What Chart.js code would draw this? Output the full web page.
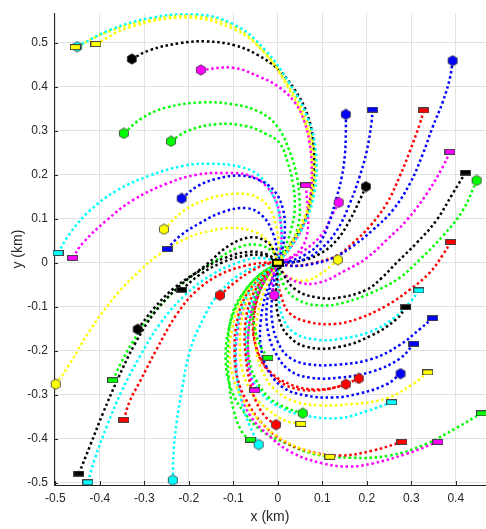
<!DOCTYPE html>
<html>
<head>
<meta charset="utf-8">
<script src="https://cdn.jsdelivr.net/npm/chart.js@4.4.0/dist/chart.umd.min.js"></script>
<style>
  html, body { margin: 0; padding: 0; background: #fff; }
  canvas { display: block; }
</style>
</head>
<body>
<canvas id="chart" width="486" height="529"></canvas>
<script>
// axis limits (km) and tick step
const xRange = [-0.503, 0.468];
const yRange = [-0.505, 0.567];
const tickStep = 0.1;

// every track ends at the hub
const hub = [0, 0];

// one letter per track: colour and marker (h = hexagon, s = rectangle)
const trackColor = ['c','y','y','k','m','m','g','g','b','c',
                    'm','y','b','y','k','c','k','g','r','r',
                    'k','c','g','c','r','m','g','m','g','y',
                    'y','r','m','g','c','y','b','b','b','r',
                    'r','k','c','r','k','g','m','y','b','r',
                    'b','b','k','m'];
const trackMarker = ('hsshhshhhs' + 'shshsshssh' + 'shshhsshhs' +
                     'sssssshssh' + 'hsssshshhs' + 'shhh').split('');

// tracks, [x, y] in km, first point = marker
const paths = [
  [[-0.451,0.491],[-0.377,0.529],[-0.287,0.556],[-0.186,0.565],[-0.096,0.540],[-0.029,0.484],[0.028,0.405],[0.068,0.327],[0.086,0.248],[0.082,0.158],[0.061,0.091],[0.028,0.034],[0,0]],
  [[-0.455,0.490],[-0.378,0.526],[-0.287,0.552],[-0.186,0.561],[-0.098,0.537],[-0.032,0.481],[0.024,0.403],[0.064,0.326],[0.082,0.248],[0.079,0.159],[0.058,0.092],[0.026,0.035],[0,0]],
  [[-0.409,0.497],[-0.333,0.535],[-0.205,0.557],[-0.097,0.530],[-0.029,0.476],[0.022,0.400],[0.061,0.319],[0.076,0.247],[0.074,0.157],[0.054,0.090],[0.022,0.034],[0,0]],
  [[-0.328,0.463],[-0.288,0.483],[-0.220,0.499],[-0.160,0.503],[-0.097,0.494],[-0.045,0.472],[0,0.440],[0.038,0.393],[0.065,0.341],[0.079,0.281],[0.081,0.209],[0.074,0.146],[0.058,0.090],[0.027,0.040],[0,0]],
  [[-0.173,0.438],[-0.101,0.443],[-0.040,0.422],[0.004,0.398],[0.040,0.362],[0.060,0.320],[0.071,0.275],[0.076,0.225],[0.074,0.157],[0.061,0.094],[0.031,0.038],[0,0]],
  [[0.063,0.176],[0.067,0.124],[0.067,0.072],[0.054,0.034],[0.027,0.011],[0,0]],
  [[-0.346,0.294],[-0.303,0.330],[-0.249,0.353],[-0.175,0.364],[-0.101,0.360],[-0.040,0.342],[0,0.308],[0.027,0.252],[0.043,0.196],[0.049,0.142],[0.047,0.090],[0.031,0.045],[0,0]],
  [[-0.240,0.276],[-0.204,0.299],[-0.137,0.315],[-0.070,0.310],[-0.029,0.294],[0.004,0.272],[0.022,0.229],[0.034,0.180],[0.038,0.124],[0.029,0.072],[0.013,0.027],[0,0]],
  [[-0.216,0.146],[-0.182,0.173],[-0.137,0.191],[-0.085,0.198],[-0.040,0.187],[-0.007,0.162],[0.011,0.124],[0.016,0.079],[0.011,0.034],[0,0]],
  [[-0.494,0.022],[-0.467,0.067],[-0.422,0.119],[-0.362,0.164],[-0.288,0.198],[-0.213,0.220],[-0.153,0.225],[-0.085,0.218],[-0.040,0.196],[-0.011,0.153],[0.004,0.106],[0.009,0.056],[0,0]],
  [[-0.461,0.011],[-0.438,0.045],[-0.384,0.097],[-0.326,0.142],[-0.249,0.180],[-0.182,0.200],[-0.124,0.204],[-0.063,0.198],[-0.025,0.173],[-0.002,0.135],[0.007,0.085],[0.007,0.034],[0,0]],
  [[-0.256,0.076],[-0.213,0.117],[-0.160,0.144],[-0.092,0.157],[-0.045,0.148],[-0.018,0.122],[-0.004,0.085],[0.002,0.040],[0,0]],
  [[-0.249,0.031],[-0.220,0.061],[-0.175,0.090],[-0.124,0.115],[-0.070,0.124],[-0.034,0.106],[-0.011,0.067],[-0.002,0.029],[0,0]],
  [[-0.499,-0.276],[-0.467,-0.229],[-0.422,-0.153],[-0.362,-0.072],[-0.310,-0.018],[-0.265,0.020],[-0.204,0.056],[-0.153,0.072],[-0.101,0.079],[-0.052,0.070],[-0.022,0.049],[-0.007,0.022],[0,0]],
  [[-0.447,-0.479],[-0.422,-0.416],[-0.393,-0.342],[-0.360,-0.265],[-0.321,-0.184],[-0.276,-0.112],[-0.220,-0.052],[-0.160,-0.004],[-0.108,0.040],[-0.058,0.058],[-0.022,0.045],[-0.007,0.022],[0,0]],
  [[-0.427,-0.499],[-0.411,-0.445],[-0.384,-0.371],[-0.351,-0.292],[-0.310,-0.213],[-0.265,-0.139],[-0.209,-0.074],[-0.148,-0.027],[-0.085,0.002],[-0.036,0.011],[0,0]],
  [[-0.315,-0.151],[-0.276,-0.101],[-0.231,-0.056],[-0.175,-0.018],[-0.119,0.011],[-0.063,0.025],[-0.022,0.018],[0,0]],
  [[-0.371,-0.267],[-0.351,-0.225],[-0.326,-0.180],[-0.292,-0.130],[-0.247,-0.079],[-0.198,-0.034],[-0.142,0.004],[-0.085,0.036],[-0.040,0.040],[-0.009,0.022],[0,0]],
  [[-0.346,-0.357],[-0.333,-0.315],[-0.310,-0.270],[-0.272,-0.196],[-0.227,-0.117],[-0.182,-0.063],[-0.130,-0.027],[-0.074,-0.007],[-0.029,0],[0,0]],
  [[-0.130,-0.074],[-0.097,-0.045],[-0.058,-0.018],[-0.022,-0.002],[0,0]],
  [[-0.216,-0.061],[-0.175,-0.027],[-0.126,0],[-0.074,0.016],[-0.029,0.016],[0,0]],
  [[-0.236,-0.494],[-0.234,-0.427],[-0.227,-0.360],[-0.216,-0.292],[-0.198,-0.202],[-0.169,-0.130],[-0.137,-0.076],[-0.092,-0.031],[-0.047,-0.009],[0,0]],
  [[-0.061,-0.402],[-0.079,-0.387],[-0.099,-0.337],[-0.110,-0.265],[-0.112,-0.187],[-0.101,-0.112],[-0.072,-0.061],[-0.040,-0.027],[0,0]],
  [[-0.043,-0.413],[-0.063,-0.371],[-0.083,-0.310],[-0.094,-0.236],[-0.092,-0.157],[-0.079,-0.097],[-0.052,-0.049],[-0.022,-0.018],[0,0]],
  [[-0.004,-0.368],[-0.027,-0.351],[-0.049,-0.315],[-0.063,-0.270],[-0.072,-0.213],[-0.074,-0.151],[-0.063,-0.090],[-0.040,-0.045],[-0.018,-0.016],[0,0]],
  [[-0.052,-0.290],[-0.063,-0.247],[-0.067,-0.191],[-0.063,-0.130],[-0.049,-0.079],[-0.027,-0.034],[0,0]],
  [[-0.022,-0.216],[-0.040,-0.187],[-0.052,-0.148],[-0.056,-0.108],[-0.049,-0.072],[-0.034,-0.038],[0,0]],
  [[-0.008,-0.074],[-0.013,-0.045],[-0.007,-0.018],[0,0]],
  [[0.056,-0.342],[0.020,-0.330],[-0.018,-0.308],[-0.047,-0.270],[-0.063,-0.225],[-0.067,-0.173],[-0.058,-0.112],[-0.040,-0.061],[-0.018,-0.022],[0,0]],
  [[0.052,-0.366],[0.020,-0.360],[-0.018,-0.337],[-0.056,-0.299],[-0.079,-0.247],[-0.085,-0.187],[-0.079,-0.119],[-0.056,-0.061],[-0.027,-0.022],[0,0]],
  [[0.117,-0.441],[0.065,-0.427],[0.004,-0.398],[-0.040,-0.360],[-0.076,-0.315],[-0.099,-0.265],[-0.108,-0.213],[-0.103,-0.151],[-0.081,-0.085],[-0.045,-0.038],[0,0]],
  [[0.279,-0.407],[0.213,-0.427],[0.139,-0.438],[0.065,-0.427],[0.011,-0.404],[-0.034,-0.366],[-0.067,-0.319],[-0.090,-0.265],[-0.097,-0.202],[-0.092,-0.135],[-0.074,-0.079],[-0.040,-0.034],[0,0]],
  [[0.360,-0.407],[0.290,-0.434],[0.213,-0.456],[0.162,-0.463],[0.101,-0.456],[0.031,-0.431],[-0.022,-0.391],[-0.063,-0.346],[-0.085,-0.292],[-0.094,-0.225],[-0.090,-0.157],[-0.074,-0.097],[-0.045,-0.045],[0,0]],
  [[0.458,-0.342],[0.402,-0.375],[0.335,-0.411],[0.252,-0.438],[0.162,-0.443],[0.079,-0.434],[0.020,-0.411],[-0.036,-0.382],[-0.074,-0.342],[-0.103,-0.292],[-0.117,-0.225],[-0.110,-0.151],[-0.085,-0.083],[-0.045,-0.031],[0,0]],
  [[0.256,-0.317],[0.200,-0.337],[0.139,-0.353],[0.065,-0.348],[0.009,-0.330],[-0.036,-0.297],[-0.063,-0.247],[-0.072,-0.180],[-0.065,-0.112],[-0.045,-0.056],[-0.022,-0.022],[0,0]],
  [[0.337,-0.249],[0.303,-0.276],[0.245,-0.308],[0.169,-0.321],[0.094,-0.324],[0.038,-0.315],[-0.007,-0.288],[-0.036,-0.243],[-0.049,-0.191],[-0.047,-0.130],[-0.034,-0.074],[-0.013,-0.027],[0,0]],
  [[0.276,-0.252],[0.245,-0.276],[0.184,-0.297],[0.124,-0.306],[0.061,-0.301],[0.011,-0.283],[-0.022,-0.243],[-0.038,-0.191],[-0.038,-0.130],[-0.027,-0.072],[-0.011,-0.029],[0,0]],
  [[0.306,-0.184],[0.274,-0.218],[0.213,-0.247],[0.139,-0.261],[0.072,-0.261],[0.027,-0.245],[-0.004,-0.207],[-0.022,-0.157],[-0.025,-0.101],[-0.016,-0.049],[0,0]],
  [[0.348,-0.126],[0.319,-0.151],[0.274,-0.187],[0.213,-0.218],[0.139,-0.231],[0.072,-0.231],[0.027,-0.216],[0,-0.180],[-0.013,-0.130],[-0.013,-0.079],[-0.007,-0.034],[0,0]],
  [[0.182,-0.263],[0.139,-0.281],[0.083,-0.288],[0.027,-0.276],[-0.018,-0.247],[-0.045,-0.202],[-0.056,-0.146],[-0.049,-0.090],[-0.029,-0.040],[0,0]],
  [[0.153,-0.276],[0.106,-0.288],[0.049,-0.288],[0.004,-0.270],[-0.029,-0.236],[-0.049,-0.191],[-0.054,-0.135],[-0.045,-0.079],[-0.025,-0.034],[0,0]],
  [[0.288,-0.101],[0.267,-0.128],[0.213,-0.164],[0.139,-0.191],[0.065,-0.191],[0.022,-0.164],[0.002,-0.124],[-0.004,-0.074],[-0.002,-0.034],[0,0]],
  [[0.317,-0.063],[0.297,-0.090],[0.258,-0.128],[0.207,-0.157],[0.139,-0.173],[0.090,-0.175],[0.038,-0.160],[0.011,-0.124],[0.002,-0.074],[0,0]],
  [[0.389,0.047],[0.371,0.018],[0.342,-0.022],[0.297,-0.061],[0.245,-0.097],[0.184,-0.126],[0.128,-0.139],[0.072,-0.135],[0.027,-0.115],[0.007,-0.074],[0,-0.034],[0,0]],
  [[0.422,0.205],[0.393,0.157],[0.357,0.097],[0.312,0.045],[0.267,0],[0.234,-0.034],[0.200,-0.061],[0.139,-0.079],[0.088,-0.079],[0.040,-0.061],[0.013,-0.027],[0,0]],
  [[0.447,0.187],[0.416,0.119],[0.371,0.061],[0.319,0.007],[0.274,-0.034],[0.213,-0.067],[0.151,-0.090],[0.094,-0.097],[0.043,-0.083],[0.013,-0.049],[0,0]],
  [[0.387,0.252],[0.371,0.218],[0.335,0.157],[0.290,0.097],[0.245,0.052],[0.200,0.011],[0.151,-0.018],[0.094,-0.045],[0.049,-0.045],[0.016,-0.027],[0,0]],
  [[0.135,0.007],[0.101,-0.022],[0.065,-0.040],[0.031,-0.036],[0.009,-0.018],[0,0]],
  [[0.393,0.459],[0.387,0.420],[0.371,0.366],[0.348,0.308],[0.326,0.247],[0.297,0.180],[0.258,0.119],[0.213,0.074],[0.169,0.038],[0.124,0.011],[0.072,-0.004],[0.027,-0.007],[0,0]],
  [[0.328,0.346],[0.319,0.315],[0.297,0.254],[0.274,0.196],[0.245,0.135],[0.207,0.083],[0.169,0.045],[0.133,0.016],[0.083,0],[0.038,-0.007],[0,0]],
  [[0.213,0.348],[0.211,0.321],[0.200,0.254],[0.184,0.196],[0.162,0.135],[0.133,0.074],[0.094,0.029],[0.049,0.004],[0,0]],
  [[0.153,0.337],[0.153,0.299],[0.151,0.247],[0.144,0.196],[0.133,0.151],[0.117,0.097],[0.094,0.045],[0.061,0.018],[0.027,0.004],[0,0]],
  [[0.198,0.173],[0.184,0.142],[0.162,0.097],[0.133,0.052],[0.094,0.020],[0.049,0.004],[0,0]],
  [[0.137,0.137],[0.124,0.112],[0.101,0.067],[0.061,0.029],[0.022,0.007],[0,0]]
];

const palette = {r:'#ff0000', g:'#00ff00', b:'#0000ff', c:'#00ffff', m:'#ff00ff', y:'#ffff00', k:'#000000'};
const ink = '#262626';
const font = 'Liberation Sans, Arial, Helvetica, sans-serif';

// marker sprites (Chart.js has no hexagon / flat box point style)
function hexSprite(fill) {
  const c = document.createElement('canvas');
  c.width = 12; c.height = 12;
  const g = c.getContext('2d');
  g.beginPath();
  for (let i = 0; i < 6; i++) {
    const a = -Math.PI / 2 + i * Math.PI / 3;
    g.lineTo(6 + 5.2 * Math.cos(a), 6 + 5.2 * Math.sin(a));
  }
  g.closePath();
  g.fillStyle = fill;
  g.fill();
  g.strokeStyle = '#333';
  g.lineWidth = 0.8;
  g.stroke();
  return c;
}
function boxSprite(fill, edge, lw, w, h) {
  const c = document.createElement('canvas');
  c.width = w; c.height = h;
  const g = c.getContext('2d');
  g.fillStyle = fill;
  g.fillRect(0, 0, w, h);
  g.strokeStyle = edge;
  g.lineWidth = lw;
  g.strokeRect(lw / 2, lw / 2, w - lw, h - lw);
  return c;
}
const sprites = {};
function sprite(col, kind) {
  const key = col + kind;
  if (!sprites[key]) sprites[key] = kind === 'h' ? hexSprite(palette[col]) : boxSprite(palette[col], '#444', 1, 11, 6);
  return sprites[key];
}

const lineSets = paths.map((p, i) => ({
  data: p.map(([x, y]) => ({x, y})),
  showLine: true,
  borderColor: palette[trackColor[i]],
  borderWidth: 2.5,
  borderDash: [2.5, 2.7],
  tension: 0.4,
  pointRadius: 0,
  order: 1
}));

const markerSet = {
  data: paths.map(p => ({x: p[0][0], y: p[0][1]})).concat([{x: hub[0], y: hub[1]}]),
  pointStyle: paths.map((p, i) => sprite(trackColor[i], trackMarker[i])).concat([boxSprite(palette.y, '#000', 2, 12, 8)]),
  pointRadius: 5,
  showLine: false,
  clip: false,
  order: 0
};

// MATLAB style inward tick marks
const innerTicks = {
  id: 'innerTicks',
  beforeDatasetsDraw(chart) {
    const {ctx, chartArea: a, scales: {x, y}} = chart;
    ctx.save();
    ctx.strokeStyle = ink;
    ctx.lineWidth = 1;
    ctx.beginPath();
    x.ticks.forEach(t => {
      const p = Math.round(x.getPixelForValue(t.value)) + 0.5;
      ctx.moveTo(p, a.bottom);
      ctx.lineTo(p, a.bottom - 4);
    });
    y.ticks.forEach(t => {
      const p = Math.round(y.getPixelForValue(t.value)) + 0.5;
      ctx.moveTo(a.left, p);
      ctx.lineTo(a.left + 4, p);
    });
    ctx.stroke();
    ctx.restore();
  }
};

const fmt = v => String(+v.toFixed(1));

new Chart(document.getElementById('chart'), {
  type: 'scatter',
  data: { datasets: [markerSet, ...lineSets] },
  plugins: [innerTicks],
  options: {
    responsive: false,
    animation: false,
    devicePixelRatio: 1,
    events: [],
    layout: { autoPadding: false, padding: { top: 8, right: 0, left: 0, bottom: 0 } },
    plugins: { legend: { display: false }, tooltip: { enabled: false } },
    scales: {
      x: {
        type: 'linear',
        min: xRange[0],
        max: xRange[1],
        afterFit: s => { s.height = 44; },
        grid: { color: '#e2e2e2', drawTicks: false },
        border: { color: ink, width: 1 },
        ticks: {
          stepSize: tickStep, includeBounds: false, padding: 6, color: ink,
          font: { family: font, size: 12 }, callback: fmt
        },
        title: {
          display: true, text: 'x (km)', color: ink,
          font: { family: font, size: 14 }, padding: { top: 0, bottom: 3.6 }
        }
      },
      y: {
        type: 'linear',
        min: yRange[0],
        max: yRange[1],
        afterFit: s => { s.width = 54; },
        grid: { color: '#e2e2e2', drawTicks: false },
        border: { color: ink, width: 1 },
        ticks: {
          stepSize: tickStep, includeBounds: false, padding: 6, color: ink,
          font: { family: font, size: 12 }, callback: fmt
        },
        title: {
          display: true, text: 'y (km)', color: ink,
          font: { family: font, size: 14 }, padding: { top: 9.6, bottom: 0 }
        }
      }
    }
  }
});
</script>
</body>
</html>
